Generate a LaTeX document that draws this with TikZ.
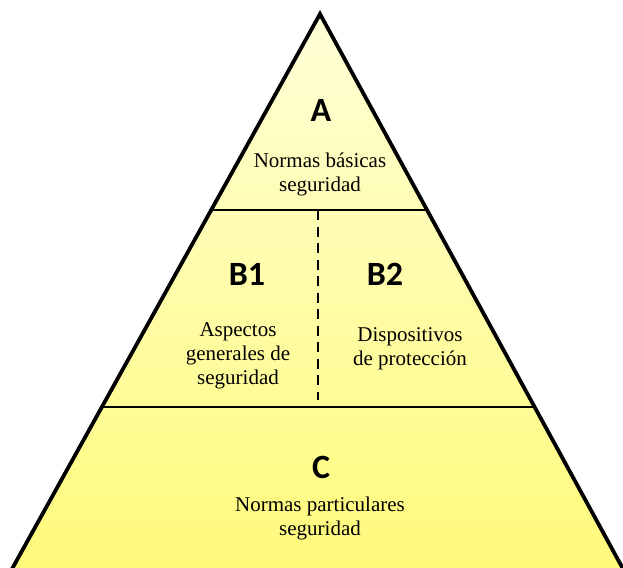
\documentclass[tikz,border=0pt]{standalone}
\usepackage{fontspec}
\setmainfont{Liberation Serif}
\newfontfamily\labelfont{Carlito}
\usetikzlibrary{calc}
\tikzset{
  outline/.style={line width=3.8pt, line join=miter},
  divider/.style={line width=2.6pt},
  splitline/.style={line width=2.6pt, dash pattern=on 10pt off 6.5pt},
  letter/.style={font=\labelfont\bfseries\fontsize{34}{36}\selectfont, inner sep=0pt},
  caption/.style={font=\fontsize{21}{24}\selectfont, align=center, inner sep=0pt}
}
\definecolor{topyellow}{RGB}{255,255,215}
\definecolor{botyellow}{RGB}{255,250,122}
\begin{document}
\begin{tikzpicture}[x=1pt,y=-1pt]
\useasboundingbox (0,0) rectangle (623,567);
\clip (0,0) rectangle (623,567);
\coordinate (apex) at (320,14);
\coordinate (bl) at (10.3,572);
\coordinate (br) at (624.7,572);
\shade[top color=topyellow, bottom color=botyellow] (apex) -- (bl) -- (br) -- cycle;
\draw[outline] (apex) -- (bl) -- (br) -- cycle;
\coordinate (l1) at ($(apex)!0.3514!(bl)+(1.5,0)$);
\coordinate (r1) at ($(apex)!0.3514!(br)+(-2,0)$);
\coordinate (l2) at ($(apex)!0.7043!(bl)+(1.5,0)$);
\coordinate (r2) at ($(apex)!0.7043!(br)+(-2,0)$);
\draw[divider] (l1) -- (r1);
\draw[divider] (l2) -- (r2);
\coordinate (dtop) at (318,210);
\coordinate (dbot) at (318,400);
\draw[splitline] (dtop) -- (dbot);
\node[letter] (A) at (321,110) {A};
\node[caption] (tA) at (320,174) {Normas básicas\\seguridad};
\node[letter] (B1) at (247,274) {B1};
\node[letter] (B2) at (385,274) {B2};
\node[caption] (tB1) at (238,356) {Aspectos\\generales de\\seguridad};
\node[caption] (tB2) at (410,349) {Dispositivos\\de protección};
\node[letter] (C) at (321,467) {C};
\node[caption] (tC) at (320,518) {Normas particulares\\seguridad};
\end{tikzpicture}
\end{document}
